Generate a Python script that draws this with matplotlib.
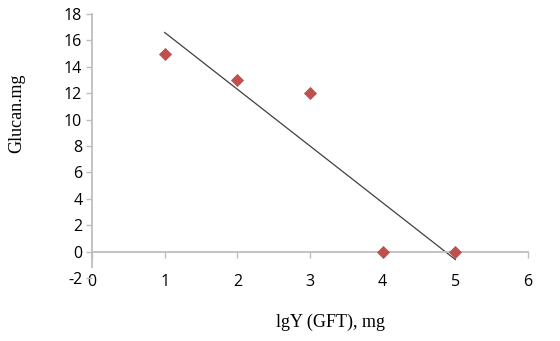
import numpy as np
import matplotlib
matplotlib.use('Agg')
import matplotlib.pyplot as plt

plt.rcParams['axes.unicode_minus'] = False

# scatter points
lg_y = [1, 2, 3, 4, 5]
glucan = [15, 13, 12, 0, 0]
x_ticks = [0, 1, 2, 3, 4, 5, 6]
y_ticks = [-2, 0, 2, 4, 6, 8, 10, 12, 14, 16, 18]

fig = plt.figure(figsize=(5.6, 3.41), dpi=100)
ax = fig.add_axes([92/560, 1-278/341, 436/560, 264/341])

ax.set_xlim(0, 6)
ax.set_ylim(-2, 18)

ax.scatter(lg_y, glucan, marker='D', s=45, color='#C0504D', zorder=3, linewidths=0)

# linear trendline (least squares, like Excel)
k, b = np.polyfit(lg_y, glucan, 1)
xs = np.array([min(lg_y), max(lg_y)])
ax.plot(xs, k*xs + b, color='#404040', linewidth=0.9, zorder=2)

axis_col = '#BEBEBE'
for s in ['top', 'right']:
    ax.spines[s].set_visible(False)
ax.spines['bottom'].set_position(('data', 0))
ax.spines['left'].set_position(('data', 0))
ax.spines['left'].set_bounds(-1.15, 18)
for s in ['bottom', 'left']:
    ax.spines[s].set_color(axis_col)
    ax.spines[s].set_linewidth(1.3)

ax.set_xticks(x_ticks)
ax.set_yticks(y_ticks)
ax.tick_params(axis='both', colors=axis_col, length=4, width=1, direction='out',
               labelcolor='black', labelsize=11.5)
ax.tick_params(axis='x', pad=12)
ax.tick_params(axis='y', pad=3)
for lab in ax.get_xticklabels() + ax.get_yticklabels():
    lab.set_family('Open Sans')

fig.text(17/560, 1-113/341, 'Glucan.mg', rotation=90, ha='center', va='center',
         family='Liberation Serif', fontsize=13)
fig.text(330/560, 1-322/341, 'lgY (GFT), mg', ha='center', va='center',
         family='Liberation Serif', fontsize=13)

fig.savefig('out.png', dpi=100)
